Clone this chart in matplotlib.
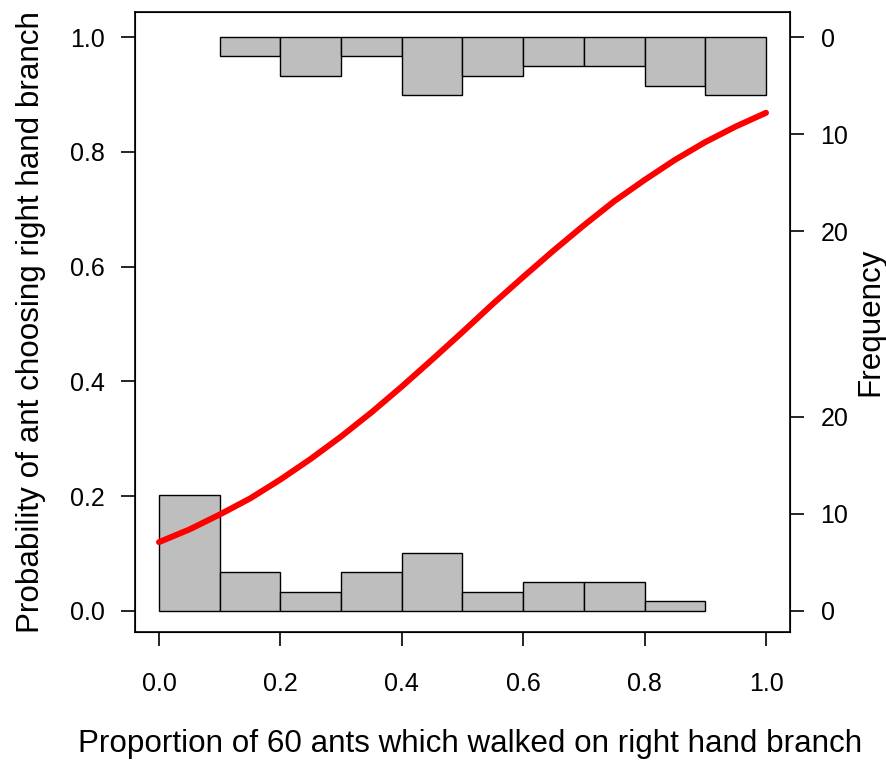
import matplotlib

matplotlib.use("Agg")

import matplotlib.pyplot as plt

plt.rcParams["font.family"] = ["Liberation Sans", "DejaVu Sans"]

# histogram bins (proportion of ants on right branch)
BIN_LEFT = [0.0, 0.1, 0.2, 0.3, 0.4, 0.5, 0.6, 0.7, 0.8, 0.9]
COUNT_LEFT_CHOICE = [12, 4, 2, 4, 6, 2, 3, 3, 1, 0]   # bottom histogram
COUNT_RIGHT_CHOICE = [0, 2, 4, 2, 6, 4, 3, 3, 5, 6]   # top histogram (hanging)

# fitted probability curve
CURVE_X = [0.0, 0.05, 0.1, 0.15, 0.2, 0.25, 0.3, 0.35, 0.4, 0.45, 0.5,
           0.55, 0.6, 0.65, 0.7, 0.75, 0.8, 0.85, 0.9, 0.95, 1.0]
CURVE_P = [0.120, 0.142, 0.168, 0.196, 0.229, 0.265, 0.304, 0.346, 0.391,
           0.438, 0.486, 0.535, 0.582, 0.628, 0.672, 0.714, 0.751, 0.786,
           0.817, 0.844, 0.868]

FREQ_TICKS = [0, 10, 20]
FREQ_SCALE = 0.0169   # probability units per count
BIN_WIDTH = 0.1

TICK_FS = 18
LABEL_FS = 22.6

fig = plt.figure(figsize=(8.86, 7.6), dpi=100)
ax = fig.add_axes([135 / 886, 1 - 632 / 760, 655 / 886, 620 / 760])

for left, n in zip(BIN_LEFT, COUNT_LEFT_CHOICE):
    if n > 0:
        ax.bar(left, n * FREQ_SCALE, width=BIN_WIDTH, align="edge",
               color="#BEBEBE", edgecolor="black", linewidth=1.0, zorder=2)
for left, n in zip(BIN_LEFT, COUNT_RIGHT_CHOICE):
    if n > 0:
        h = n * FREQ_SCALE
        ax.bar(left, h, bottom=1 - h, width=BIN_WIDTH, align="edge",
               color="#BEBEBE", edgecolor="black", linewidth=1.0, zorder=2)

ax.plot(CURVE_X, CURVE_P, color="red", linewidth=4.3,
        solid_capstyle="round", zorder=3)

ax.set_xlim(-0.0395, 1.0395)
ax.set_ylim(-0.0366, 1.0436)
ax.set_xticks([0.0, 0.2, 0.4, 0.6, 0.8, 1.0])
ax.set_yticks([0.0, 0.2, 0.4, 0.6, 0.8, 1.0])
ax.set_xticklabels([f"{v:.1f}" for v in ax.get_xticks()])
ax.set_yticklabels([f"{v:.1f}" for v in ax.get_yticks()])
ax.tick_params(direction="out", length=10, width=1.2, labelsize=TICK_FS,
               pad=12)
ax.tick_params(axis="x", pad=19)
for s in ax.spines.values():
    s.set_linewidth(1.2)

# x label placed by baseline, as in the reference
fig.text(470 / 886, 8 / 760,
         "Proportion of 60 ants which walked on right hand branch",
         fontsize=LABEL_FS, ha="center", va="baseline")
ax.set_ylabel("Probability of ant choosing right hand branch",
              fontsize=LABEL_FS, labelpad=17)

ax2 = ax.twinx()
ax2.set_ylim(ax.get_ylim())
pos = [f * FREQ_SCALE for f in FREQ_TICKS] + [1 - f * FREQ_SCALE for f in FREQ_TICKS]
labs = [str(f) for f in FREQ_TICKS] * 2
ax2.set_yticks(pos)
ax2.set_yticklabels(labs)
ax2.tick_params(direction="out", length=10, width=1.2, labelsize=TICK_FS,
                pad=12)
ax2.set_ylabel("Frequency", fontsize=LABEL_FS, labelpad=5)

fig.savefig("out.png", dpi=100, facecolor="white")
